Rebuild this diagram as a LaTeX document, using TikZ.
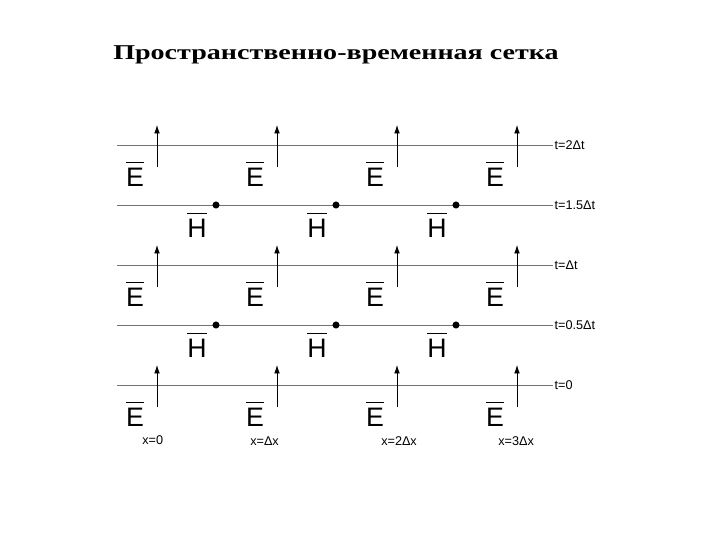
\documentclass[tikz,border=0pt]{standalone}
\usepackage{fontspec}
\setmainfont{Liberation Serif}
\setsansfont{Liberation Sans}
\usetikzlibrary{arrows.meta, positioning}

\begin{document}
\begin{tikzpicture}[x=0.025cm, y=-0.025cm,
    gridline/.style={draw=black!55, line width=0.5pt},
    field/.style={-{Latex[length=6pt,width=4pt]}, line width=0.5pt},
    fieldlbl/.style={font=\sffamily\fontsize{19}{19}\selectfont, inner sep=0pt},
    timelbl/.style={font=\sffamily\fontsize{9}{9}\selectfont, anchor=west, inner sep=1pt},
    poslbl/.style={font=\sffamily\fontsize{9}{9}\selectfont, anchor=west, inner sep=0pt}]
    \useasboundingbox (0,0) rectangle (720,540);

    % Title
    \node (title) [font=\bfseries\fontsize{15}{15}\selectfont, xscale=1.33, transform shape] at (336,55)
        {Пространственно-временная сетка};

    % Time levels
    \foreach \y/\lbl/\nm in {145/t=2Δt/a, 205/t=1.5Δt/b, 265/t=Δt/c, 325/t=0.5Δt/d, 385/t=0/e} {
        \coordinate (start\nm) at (117,\y);
        \node (time\nm) [timelbl] at (553,\y) {\lbl};
        \draw[gridline] (start\nm) -- (time\nm.west);
    }

    % E field: arrows on integer levels
    \foreach \y/\nm in {145/a, 265/c, 385/e} {
        \foreach \i in {0,...,3} {
            \coordinate (foot\nm\i) at (157+120*\i,\y+22);
            \coordinate (tip\nm\i) at (157+120*\i,\y-20);
            \draw[field] (foot\nm\i) -- (tip\nm\i);
            \node (E\nm\i) [fieldlbl] at (135+120*\i,\y+29) {$\overline{\hbox{\raisebox{0pt}[1.25\height]{E}}}$};
        }
    }

    % H field: dots on half levels
    \foreach \y/\nm in {205/b, 325/d} {
        \foreach \i in {0,...,2} {
            \node (dot\nm\i) [circle, fill, inner sep=0pt, minimum size=5pt] at (216+120*\i,\y) {};
            \node (H\nm\i) [fieldlbl] at (197+120*\i,\y+20) {$\overline{\hbox{\raisebox{0pt}[1.25\height]{H}}}$};
        }
    }

    % Space positions
    \node (xa) [poslbl] at (142,440) {x=0};
    \node (xb) [poslbl] at (250,441) {x=Δx};
    \node (xc) [poslbl] at (381,441) {x=2Δx};
    \node (xd) [poslbl] at (498,441) {x=3Δx};
\end{tikzpicture}
\end{document}
